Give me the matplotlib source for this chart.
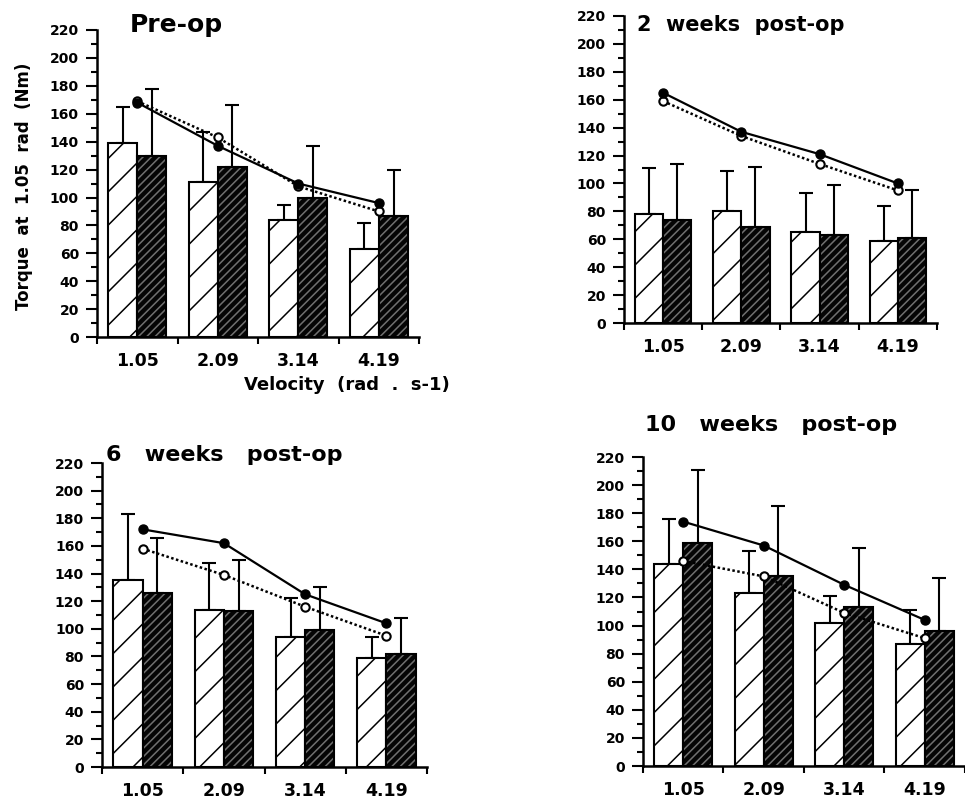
import numpy as np
import matplotlib
matplotlib.use('Agg')
import matplotlib.pyplot as plt

plt.rcParams['font.family'] = 'DejaVu Sans'
plt.rcParams['font.weight'] = 'bold'
plt.rcParams['hatch.linewidth'] = 1.1

# Velocities (rad/s)
velocities = ['1.05', '2.09', '3.14', '4.19']

# Panel titles
titles = ['Pre-op', '2  weeks  post-op', '6   weeks   post-op', '10   weeks   post-op']
title_sizes = [18, 15, 16, 16]

# Hatched (white) bars: mean and upper SD
white_mean = [
    [139, 111, 84, 63],
    [78, 80, 65, 59],
    [135, 114, 94, 79],
    [144, 123, 102, 87],
]
white_top = [
    [165, 147, 95, 82],
    [111, 109, 93, 84],
    [183, 148, 122, 94],
    [176, 153, 121, 111],
]

# Dark bars: mean and upper SD
dark_mean = [
    [130, 122, 100, 87],
    [74, 69, 63, 61],
    [126, 113, 99, 82],
    [159, 135, 113, 96],
]
dark_top = [
    [178, 166, 137, 120],
    [114, 112, 99, 95],
    [166, 150, 130, 108],
    [211, 185, 155, 134],
]

# Line series: filled circles (solid) and open circles (dotted)
solid_line = [
    [168, 137, 110, 96],
    [165, 137, 121, 100],
    [172, 162, 125, 104],
    [174, 157, 129, 104],
]
dotted_line = [
    [169, 143, 108, 90],
    [159, 134, 114, 95],
    [158, 139, 116, 95],
    [146, 135, 109, 91],
]

fig = plt.figure(figsize=(9.65, 7.99), dpi=100)

# axes rectangles (left, bottom, width, height) in figure fraction
rects = [
    (0.1005, 0.578, 0.334, 0.3845),
    (0.6466, 0.5957, 0.3244, 0.3843),
    (0.1057, 0.040, 0.3368, 0.3805),
    (0.6663, 0.0413, 0.3337, 0.3867),
]
# title positions in pixels (left x, center y)
title_pos = [(130, 25), (637, 25), (106, 455), (645, 425)]

x = np.arange(len(velocities))
w = 0.36

for i in range(4):
    ax = fig.add_axes(rects[i])
    wm = np.array(white_mean[i])
    dm = np.array(dark_mean[i])
    werr = np.array(white_top[i]) - wm
    derr = np.array(dark_top[i]) - dm

    # error bars (upper only)
    ax.errorbar(x - w / 2, wm, yerr=[np.zeros(4), werr], fmt='none',
                ecolor='black', elinewidth=1.5, capsize=5, capthick=1.5, zorder=1)
    ax.errorbar(x + w / 2, dm, yerr=[np.zeros(4), derr], fmt='none',
                ecolor='black', elinewidth=1.5, capsize=5, capthick=1.5, zorder=1)

    # hatched white bars
    ax.bar(x - w / 2, wm, w, color='white', edgecolor='black', hatch='/',
           linewidth=1.5, zorder=2)
    # dark bars with fine light hatching
    ax.bar(x + w / 2, dm, w, color='#050505', edgecolor='#707070', hatch='////',
           linewidth=0, zorder=2)
    ax.bar(x + w / 2, dm, w, fill=False, edgecolor='black', linewidth=1.5, zorder=3)

    # lines
    ax.plot(x, dotted_line[i], linestyle=(0, (1, 1)), color='black', linewidth=1.8,
            marker='o', markersize=6, markerfacecolor='white', markeredgecolor='black',
            markeredgewidth=1.5, zorder=4)
    ax.plot(x, solid_line[i], linestyle='-', color='black', linewidth=1.6,
            marker='o', markersize=6.5, markerfacecolor='black', markeredgecolor='black',
            zorder=5)

    ax.set_xlim(-0.5, 3.5)
    ax.set_ylim(0, 220)
    ax.set_yticks(np.arange(0, 221, 20))
    ax.set_yticks(np.arange(0, 221, 10), minor=True)
    ax.set_xticks(x)
    ax.set_xticklabels(velocities, fontsize=12.5, fontweight='bold')
    ax.set_xticks(np.arange(-0.5, 3.6, 1), minor=True)
    ax.tick_params(axis='x', which='major', length=0, pad=11)
    ax.tick_params(axis='x', which='minor', length=5, width=1.5, direction='out')
    ax.tick_params(axis='y', which='major', length=8, width=1.5, direction='out',
                   labelsize=10, pad=5)
    ax.tick_params(axis='y', which='minor', length=4, width=1.5, direction='out')
    for lab in ax.get_yticklabels():
        lab.set_fontweight('bold')
    for s in ['top', 'right']:
        ax.spines[s].set_visible(False)
    for s in ['left', 'bottom']:
        ax.spines[s].set_linewidth(1.8)

    tx, ty = title_pos[i]
    fig.text(tx / 965, 1 - ty / 799, titles[i], fontsize=title_sizes[i],
             fontweight='bold', ha='left', va='center')

# axis labels (first panel only)
fig.text(24 / 965, 1 - 186 / 799, 'Torque  at  1.05  rad  (Nm)', rotation=90,
         fontsize=12, fontweight='bold', ha='center', va='center')
fig.text(347 / 965, 1 - 385 / 799, 'Velocity  (rad  .  s-1)', fontsize=13,
         fontweight='bold', ha='center', va='center')

plt.savefig('out.png', dpi=100)
